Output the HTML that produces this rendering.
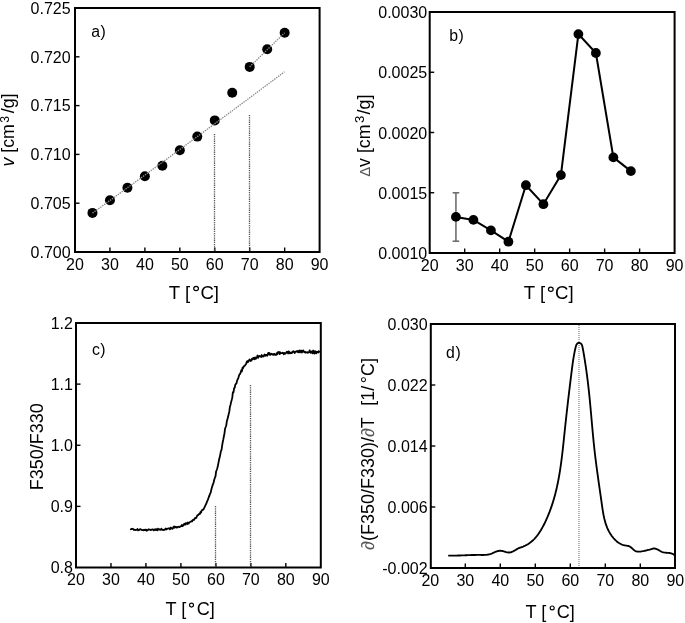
<!DOCTYPE html><html><head><meta charset="utf-8"><style>html,body{margin:0;padding:0;background:#fff;overflow:hidden;}svg{display:block;will-change:transform;}text{font-family:"Liberation Sans",sans-serif;fill:#000;}.t{font-size:16px;}.ti{font-size:18.6px;}.ty{font-size:17.6px;}.tc{font-size:18.1px;}.lb{font-size:15.8px;letter-spacing:0.5px;}</style></head><body>
<svg width="685" height="623" viewBox="0 0 685 623">
<rect width="685" height="623" fill="#fff"/>
<rect x="75" y="8" width="244.60" height="244" fill="none" stroke="#000" stroke-width="2"/>
<line x1="109.94" y1="252" x2="109.94" y2="247.5" stroke="#000" stroke-width="1.4"/>
<line x1="144.89" y1="252" x2="144.89" y2="247.5" stroke="#000" stroke-width="1.4"/>
<line x1="179.83" y1="252" x2="179.83" y2="247.5" stroke="#000" stroke-width="1.4"/>
<line x1="214.77" y1="252" x2="214.77" y2="247.5" stroke="#000" stroke-width="1.4"/>
<line x1="249.71" y1="252" x2="249.71" y2="247.5" stroke="#000" stroke-width="1.4"/>
<line x1="284.66" y1="252" x2="284.66" y2="247.5" stroke="#000" stroke-width="1.4"/>
<line x1="75" y1="203.20" x2="79.5" y2="203.20" stroke="#000" stroke-width="1.4"/>
<line x1="75" y1="154.40" x2="79.5" y2="154.40" stroke="#000" stroke-width="1.4"/>
<line x1="75" y1="105.60" x2="79.5" y2="105.60" stroke="#000" stroke-width="1.4"/>
<line x1="75" y1="56.80" x2="79.5" y2="56.80" stroke="#000" stroke-width="1.4"/>
<text x="75.00" y="269.6" class="t" text-anchor="middle">20</text>
<text x="109.94" y="269.6" class="t" text-anchor="middle">30</text>
<text x="144.89" y="269.6" class="t" text-anchor="middle">40</text>
<text x="179.83" y="269.6" class="t" text-anchor="middle">50</text>
<text x="214.77" y="269.6" class="t" text-anchor="middle">60</text>
<text x="249.71" y="269.6" class="t" text-anchor="middle">70</text>
<text x="284.66" y="269.6" class="t" text-anchor="middle">80</text>
<text x="319.60" y="269.6" class="t" text-anchor="middle">90</text>
<text x="70.6" y="257.80" class="t" text-anchor="end">0.700</text>
<text x="70.6" y="209.00" class="t" text-anchor="end">0.705</text>
<text x="70.6" y="160.20" class="t" text-anchor="end">0.710</text>
<text x="70.6" y="111.40" class="t" text-anchor="end">0.715</text>
<text x="70.6" y="62.60" class="t" text-anchor="end">0.720</text>
<text x="70.6" y="13.80" class="t" text-anchor="end">0.725</text>
<line x1="214.5" y1="134" x2="214.5" y2="251" stroke="#555" stroke-width="1.3" stroke-dasharray="1.3,0.9"/>
<line x1="249.5" y1="115" x2="249.5" y2="251" stroke="#555" stroke-width="1.3" stroke-dasharray="1.3,0.9"/>
<circle cx="92.47" cy="212.9" r="5" fill="#000"/>
<circle cx="109.94" cy="200.2" r="5" fill="#000"/>
<circle cx="127.41" cy="187.8" r="5" fill="#000"/>
<circle cx="144.89" cy="176.2" r="5" fill="#000"/>
<circle cx="162.36" cy="165.8" r="5" fill="#000"/>
<circle cx="179.83" cy="150.2" r="5" fill="#000"/>
<circle cx="197.30" cy="136.6" r="5" fill="#000"/>
<circle cx="214.77" cy="120.4" r="5" fill="#000"/>
<circle cx="232.24" cy="92.8" r="5" fill="#000"/>
<circle cx="249.71" cy="66.9" r="5" fill="#000"/>
<circle cx="267.19" cy="49.2" r="5" fill="#000"/>
<circle cx="284.66" cy="32.8" r="5" fill="#000"/>
<polyline points="92.50,213.12 97.42,209.56 102.35,205.99 107.27,202.43 112.19,198.85 117.12,195.28 122.04,191.70 126.96,188.12 131.88,184.54 136.81,180.95 141.73,177.36 146.65,173.76 151.58,170.17 156.50,166.57 161.42,162.96 166.35,159.36 171.27,155.74 176.19,152.13 181.12,148.51 186.04,144.89 190.96,141.27 195.88,137.65 200.81,134.02 205.73,130.38 210.65,126.75 215.58,123.11 220.50,119.47 225.42,115.82 230.35,112.17 235.27,108.52 240.19,104.86 245.12,101.21 250.04,97.54 254.96,93.88 259.88,90.21 264.81,86.54 269.73,82.86 274.65,79.19 279.58,75.50 284.50,71.82" fill="none" stroke="#8a8a8a" stroke-width="1.3" stroke-dasharray="1.4,1"/>
<line x1="249.6" y1="66.9" x2="284.6" y2="32.8" stroke="#8a8a8a" stroke-width="1.3" stroke-dasharray="1.4,1"/>
<text x="91.2" y="37.1" class="lb">a)</text>
<text x="168.8" y="298.5" class="ti">T [</text><ellipse cx="196.1" cy="288.5" rx="2.35" ry="2.1" fill="none" stroke="#000" stroke-width="1.2"/><text x="200.4" y="298.5" class="ti">C]</text>
<text transform="translate(14.2,166.6) rotate(-90)" font-size="17.8"><tspan font-style="italic">v</tspan> [cm</text>
<text transform="translate(8.5,122.7) rotate(-90)" font-size="12.2">3</text>
<text transform="translate(14.2,113.3) rotate(-90)" font-size="17.8">/g]</text>
<rect x="429.7" y="12" width="244.90" height="241" fill="none" stroke="#000" stroke-width="2"/>
<line x1="464.69" y1="253" x2="464.69" y2="248.5" stroke="#000" stroke-width="1.4"/>
<line x1="499.67" y1="253" x2="499.67" y2="248.5" stroke="#000" stroke-width="1.4"/>
<line x1="534.66" y1="253" x2="534.66" y2="248.5" stroke="#000" stroke-width="1.4"/>
<line x1="569.64" y1="253" x2="569.64" y2="248.5" stroke="#000" stroke-width="1.4"/>
<line x1="604.63" y1="253" x2="604.63" y2="248.5" stroke="#000" stroke-width="1.4"/>
<line x1="639.61" y1="253" x2="639.61" y2="248.5" stroke="#000" stroke-width="1.4"/>
<line x1="429.7" y1="192.75" x2="434.2" y2="192.75" stroke="#000" stroke-width="1.4"/>
<line x1="429.7" y1="132.50" x2="434.2" y2="132.50" stroke="#000" stroke-width="1.4"/>
<line x1="429.7" y1="72.25" x2="434.2" y2="72.25" stroke="#000" stroke-width="1.4"/>
<text x="429.70" y="271.1" class="t" text-anchor="middle">20</text>
<text x="464.69" y="271.1" class="t" text-anchor="middle">30</text>
<text x="499.67" y="271.1" class="t" text-anchor="middle">40</text>
<text x="534.66" y="271.1" class="t" text-anchor="middle">50</text>
<text x="569.64" y="271.1" class="t" text-anchor="middle">60</text>
<text x="604.63" y="271.1" class="t" text-anchor="middle">70</text>
<text x="639.61" y="271.1" class="t" text-anchor="middle">80</text>
<text x="674.60" y="271.1" class="t" text-anchor="middle">90</text>
<text x="427.2" y="259.15" class="t" text-anchor="end">0.0010</text>
<text x="427.2" y="198.90" class="t" text-anchor="end">0.0015</text>
<text x="427.2" y="138.65" class="t" text-anchor="end">0.0020</text>
<text x="427.2" y="78.40" class="t" text-anchor="end">0.0025</text>
<text x="427.2" y="18.15" class="t" text-anchor="end">0.0030</text>
<g stroke="#666" stroke-width="1.5"><line x1="455.94" y1="192.8" x2="455.94" y2="241.2"/><line x1="452.64" y1="192.8" x2="459.24" y2="192.8"/><line x1="452.64" y1="241.2" x2="459.24" y2="241.2"/></g>
<polyline points="455.94,216.9 473.43,219.9 490.93,230.4 508.42,241.7 525.91,185.2 543.40,204.2 560.90,175.1 578.39,34.1 595.88,53.0 613.38,157.4 630.87,171.1" fill="none" stroke="#000" stroke-width="2"/>
<circle cx="455.94" cy="216.9" r="4.9" fill="#000"/>
<circle cx="473.43" cy="219.9" r="4.9" fill="#000"/>
<circle cx="490.93" cy="230.4" r="4.9" fill="#000"/>
<circle cx="508.42" cy="241.7" r="4.9" fill="#000"/>
<circle cx="525.91" cy="185.2" r="4.9" fill="#000"/>
<circle cx="543.40" cy="204.2" r="4.9" fill="#000"/>
<circle cx="560.90" cy="175.1" r="4.9" fill="#000"/>
<circle cx="578.39" cy="34.1" r="4.9" fill="#000"/>
<circle cx="595.88" cy="53.0" r="4.9" fill="#000"/>
<circle cx="613.38" cy="157.4" r="4.9" fill="#000"/>
<circle cx="630.87" cy="171.1" r="4.9" fill="#000"/>
<text x="449.2" y="40.6" class="lb">b)</text>
<text x="523.8" y="299.2" class="ti">T [</text><ellipse cx="550.8" cy="289.3" rx="2.35" ry="2.1" fill="none" stroke="#000" stroke-width="1.2"/><text x="555" y="299.2" class="ti">C]</text>
<text transform="translate(369.5,176.8) rotate(-90)" font-size="15"><tspan fill="#555">Δ</tspan></text>
<text transform="translate(369.5,166.9) rotate(-90)" font-size="17.8">v [cm</text>
<text transform="translate(363.5,122.9) rotate(-90)" font-size="13.3">3</text>
<text transform="translate(369.5,114.4) rotate(-90)" font-size="17.8">/g]</text>
<rect x="76" y="323" width="244.80" height="244.5" fill="none" stroke="#000" stroke-width="2"/>
<line x1="110.97" y1="567.5" x2="110.97" y2="563.0" stroke="#000" stroke-width="1.4"/>
<line x1="145.94" y1="567.5" x2="145.94" y2="563.0" stroke="#000" stroke-width="1.4"/>
<line x1="180.91" y1="567.5" x2="180.91" y2="563.0" stroke="#000" stroke-width="1.4"/>
<line x1="215.89" y1="567.5" x2="215.89" y2="563.0" stroke="#000" stroke-width="1.4"/>
<line x1="250.86" y1="567.5" x2="250.86" y2="563.0" stroke="#000" stroke-width="1.4"/>
<line x1="285.83" y1="567.5" x2="285.83" y2="563.0" stroke="#000" stroke-width="1.4"/>
<line x1="76" y1="506.38" x2="80.5" y2="506.38" stroke="#000" stroke-width="1.4"/>
<line x1="76" y1="445.25" x2="80.5" y2="445.25" stroke="#000" stroke-width="1.4"/>
<line x1="76" y1="384.12" x2="80.5" y2="384.12" stroke="#000" stroke-width="1.4"/>
<text x="76.00" y="584.7" class="t" text-anchor="middle">20</text>
<text x="110.97" y="584.7" class="t" text-anchor="middle">30</text>
<text x="145.94" y="584.7" class="t" text-anchor="middle">40</text>
<text x="180.91" y="584.7" class="t" text-anchor="middle">50</text>
<text x="215.89" y="584.7" class="t" text-anchor="middle">60</text>
<text x="250.86" y="584.7" class="t" text-anchor="middle">70</text>
<text x="285.83" y="584.7" class="t" text-anchor="middle">80</text>
<text x="320.80" y="584.7" class="t" text-anchor="middle">90</text>
<text x="72.9" y="573.45" class="t" text-anchor="end">0.8</text>
<text x="72.9" y="512.33" class="t" text-anchor="end">0.9</text>
<text x="72.9" y="451.20" class="t" text-anchor="end">1.0</text>
<text x="72.9" y="390.07" class="t" text-anchor="end">1.1</text>
<text x="72.9" y="328.95" class="t" text-anchor="end">1.2</text>
<line x1="215.5" y1="506" x2="215.5" y2="567" stroke="#555" stroke-width="1.3" stroke-dasharray="1.3,0.9"/>
<line x1="250.5" y1="385" x2="250.5" y2="567" stroke="#555" stroke-width="1.3" stroke-dasharray="1.3,0.9"/>
<polyline points="130.30,528.82 130.90,529.26 131.50,528.96 132.10,529.00 132.70,528.77 133.30,529.22 133.90,529.96 134.50,529.70 135.10,530.09 135.70,529.78 136.30,529.92 136.90,529.88 137.50,529.00 138.10,530.30 138.70,530.16 139.30,530.18 139.90,529.12 140.50,529.12 141.10,529.58 141.70,529.81 142.30,530.21 142.90,530.03 143.50,530.29 144.10,529.67 144.70,530.11 145.30,530.11 145.90,529.54 146.50,530.69 147.10,530.07 147.70,530.35 148.30,529.42 148.90,529.35 149.50,529.55 150.10,529.67 150.70,530.05 151.30,529.87 151.90,529.53 152.50,529.28 153.10,529.51 153.70,530.39 154.30,529.38 154.90,529.91 155.50,529.99 156.10,529.02 156.70,529.77 157.30,530.37 157.90,528.68 158.50,529.51 159.10,529.59 159.70,529.21 160.30,529.84 160.90,529.53 161.50,528.80 162.10,529.92 162.70,529.80 163.30,529.89 163.90,530.09 164.50,529.50 165.10,529.33 165.70,528.57 166.30,529.47 166.90,528.81 167.50,528.84 168.10,528.38 168.70,528.46 169.30,528.59 169.90,529.39 170.50,527.59 171.10,527.73 171.70,528.43 172.30,528.88 172.90,528.29 173.50,526.88 174.10,526.42 174.70,527.71 175.30,527.01 175.90,526.67 176.50,527.58 177.10,527.50 177.70,526.89 178.30,526.79 178.90,526.74 179.50,527.18 180.10,526.54 180.70,526.32 181.30,526.14 181.90,524.86 182.50,526.07 183.10,525.66 183.70,525.19 184.30,523.67 184.90,524.10 185.50,524.61 186.10,523.01 186.70,523.59 187.30,523.94 187.90,522.46 188.50,523.64 189.10,522.77 189.70,522.06 190.30,521.94 190.90,521.74 191.50,521.11 192.10,521.27 192.70,519.98 193.30,519.70 193.90,519.98 194.50,518.93 195.10,517.89 195.70,518.20 196.30,517.84 196.90,516.22 197.50,515.10 198.10,515.10 198.70,514.45 199.30,513.73 199.90,513.97 200.50,512.03 201.10,512.53 201.70,510.46 202.30,509.92 202.90,509.85 203.50,509.26 204.10,508.23 204.70,506.93 205.30,505.67 205.90,504.38 206.50,503.19 207.10,501.28 207.70,500.02 208.30,498.66 208.90,496.76 209.50,495.51 210.10,493.65 210.70,492.64 211.30,489.82 211.90,487.52 212.50,485.61 213.10,483.82 213.70,482.30 214.30,479.47 214.90,477.72 215.50,476.39 216.10,471.55 216.70,469.95 217.30,468.18 217.90,465.58 218.50,462.66 219.10,459.47 219.70,457.35 220.30,454.39 220.90,451.10 221.50,450.05 222.10,445.84 222.70,442.25 223.30,439.41 223.90,436.21 224.50,433.22 225.10,428.51 225.70,427.03 226.30,425.16 226.90,420.98 227.50,418.94 228.10,416.82 228.70,413.98 229.30,411.64 229.90,406.77 230.50,404.92 231.10,402.12 231.70,399.90 232.30,397.42 232.90,392.15 233.50,392.27 234.10,388.29 234.70,387.85 235.30,384.57 235.90,384.06 236.50,383.17 237.10,380.63 237.70,379.25 238.30,378.03 238.90,375.97 239.50,374.30 240.10,374.06 240.70,372.41 241.30,370.28 241.90,371.41 242.50,367.61 243.10,368.20 243.70,366.53 244.30,366.05 244.90,365.70 245.50,364.57 246.10,364.11 246.70,361.83 247.30,361.21 247.90,362.21 248.50,360.57 249.10,360.09 249.70,359.37 250.30,361.03 250.90,360.33 251.50,360.58 252.10,358.55 252.70,358.98 253.30,357.88 253.90,359.03 254.50,359.38 255.10,357.30 255.70,358.86 256.30,358.19 256.90,357.09 257.50,355.51 258.10,357.78 258.70,356.46 259.30,355.90 259.90,356.47 260.50,356.34 261.10,357.01 261.70,355.00 262.30,356.46 262.90,356.59 263.50,356.42 264.10,355.08 264.70,354.54 265.30,355.74 265.90,354.98 266.50,354.90 267.10,355.79 267.70,354.46 268.30,352.87 268.90,354.21 269.50,353.04 270.10,354.95 270.70,354.50 271.30,353.74 271.90,354.11 272.50,354.67 273.10,354.05 273.70,354.92 274.30,353.82 274.90,354.58 275.50,354.86 276.10,354.89 276.70,353.13 277.30,354.23 277.90,352.11 278.50,352.65 279.10,351.93 279.70,354.14 280.30,352.37 280.90,353.23 281.50,353.05 282.10,353.12 282.70,352.65 283.30,353.21 283.90,354.32 284.50,352.97 285.10,353.28 285.70,353.58 286.30,352.64 286.90,351.79 287.50,352.27 288.10,353.44 288.70,351.37 289.30,352.11 289.90,353.28 290.50,353.09 291.10,352.47 291.70,353.03 292.30,352.52 292.90,351.49 293.50,351.17 294.10,351.83 294.70,352.96 295.30,351.82 295.90,351.54 296.50,351.60 297.10,351.00 297.70,352.04 298.30,351.22 298.90,352.35 299.50,350.30 300.10,352.30 300.70,351.56 301.30,350.58 301.90,352.56 302.50,351.80 303.10,350.33 303.70,351.32 304.30,352.18 304.90,351.61 305.50,352.52 306.10,352.49 306.70,352.41 307.30,352.15 307.90,352.89 308.50,352.38 309.10,352.22 309.70,350.32 310.30,352.54 310.90,352.84 311.50,351.63 312.10,351.50 312.70,353.29 313.30,350.52 313.90,352.18 314.50,353.64 315.10,351.13 315.70,352.33 316.30,353.22 316.90,351.72 317.50,352.24 318.10,352.51 318.70,351.18 319.30,351.80 319.90,352.10" fill="none" stroke="#000" stroke-width="1.8" stroke-linejoin="round"/>
<text x="91.9" y="354.7" class="lb">c)</text>
<text x="165.6" y="614.9" class="tc">T [</text><ellipse cx="191.5" cy="605.1" rx="2.0" ry="1.95" fill="none" stroke="#000" stroke-width="1.15"/><text x="196.7" y="614.9" class="tc">C]</text>
<text transform="translate(42.5,490.2) rotate(-90)" font-size="18.0">F350/F330</text>
<rect x="430.8" y="324" width="244.20" height="244" fill="none" stroke="#000" stroke-width="2"/>
<line x1="465.30" y1="568" x2="465.30" y2="563.5" stroke="#000" stroke-width="1.4"/>
<line x1="500.30" y1="568" x2="500.30" y2="563.5" stroke="#000" stroke-width="1.4"/>
<line x1="535.30" y1="568" x2="535.30" y2="563.5" stroke="#000" stroke-width="1.4"/>
<line x1="570.30" y1="568" x2="570.30" y2="563.5" stroke="#000" stroke-width="1.4"/>
<line x1="605.30" y1="568" x2="605.30" y2="563.5" stroke="#000" stroke-width="1.4"/>
<line x1="640.30" y1="568" x2="640.30" y2="563.5" stroke="#000" stroke-width="1.4"/>
<line x1="430.8" y1="507.00" x2="435.3" y2="507.00" stroke="#000" stroke-width="1.4"/>
<line x1="430.8" y1="446.00" x2="435.3" y2="446.00" stroke="#000" stroke-width="1.4"/>
<line x1="430.8" y1="385.00" x2="435.3" y2="385.00" stroke="#000" stroke-width="1.4"/>
<text x="430.30" y="585.6" class="t" text-anchor="middle">20</text>
<text x="465.30" y="585.6" class="t" text-anchor="middle">30</text>
<text x="500.30" y="585.6" class="t" text-anchor="middle">40</text>
<text x="535.30" y="585.6" class="t" text-anchor="middle">50</text>
<text x="570.30" y="585.6" class="t" text-anchor="middle">60</text>
<text x="605.30" y="585.6" class="t" text-anchor="middle">70</text>
<text x="640.30" y="585.6" class="t" text-anchor="middle">80</text>
<text x="675.30" y="585.6" class="t" text-anchor="middle">90</text>
<text x="427.6" y="574.25" class="t" text-anchor="end">-0.002</text>
<text x="427.6" y="513.25" class="t" text-anchor="end">0.006</text>
<text x="427.6" y="452.25" class="t" text-anchor="end">0.014</text>
<text x="427.6" y="391.25" class="t" text-anchor="end">0.022</text>
<text x="427.6" y="330.25" class="t" text-anchor="end">0.030</text>
<line x1="579.0" y1="325" x2="579.0" y2="567" stroke="#777" stroke-width="1.1" stroke-dasharray="1,1"/>
<polyline points="448.20,555.69 449.01,555.69 449.82,555.69 450.62,555.69 451.43,555.68 452.24,555.67 453.04,555.66 453.85,555.65 454.65,555.63 455.46,555.61 456.26,555.59 457.07,555.56 457.87,555.54 458.68,555.51 459.48,555.48 460.29,555.46 461.09,555.43 461.90,555.39 462.70,555.36 463.50,555.33 464.31,555.30 465.11,555.27 465.92,555.24 466.72,555.21 467.52,555.18 468.33,555.15 469.13,555.12 469.94,555.09 470.74,555.07 471.55,555.04 472.35,555.02 473.16,555.00 473.97,554.98 474.77,554.97 475.58,554.96 476.39,554.95 477.20,554.94 478.00,554.94 478.81,554.94 479.62,554.94 480.43,554.95 481.24,554.96 482.05,554.96 482.86,554.97 483.67,554.96 484.48,554.94 485.28,554.90 486.08,554.84 486.88,554.76 487.67,554.65 488.45,554.51 489.24,554.34 490.01,554.12 490.78,553.87 491.54,553.58 492.30,553.27 493.06,552.94 493.81,552.60 494.56,552.27 495.31,551.95 496.06,551.66 496.81,551.39 497.57,551.16 498.33,550.97 499.09,550.85 499.86,550.78 500.64,550.79 501.42,550.88 502.21,551.02 503.00,551.21 503.80,551.43 504.59,551.66 505.39,551.89 506.18,552.11 506.97,552.29 507.75,552.43 508.52,552.50 509.29,552.50 510.04,552.42 510.79,552.25 511.53,552.02 512.26,551.73 512.99,551.39 513.71,551.01 514.44,550.61 515.16,550.19 515.87,549.76 516.60,549.33 517.32,548.92 518.05,548.53 518.78,548.18 519.52,547.86 520.26,547.57 521.00,547.31 521.75,547.05 522.49,546.79 523.24,546.51 523.97,546.20 524.71,545.88 525.43,545.53 526.15,545.16 526.87,544.77 527.57,544.36 528.26,543.93 528.94,543.48 529.61,543.02 530.26,542.54 530.90,542.04 531.52,541.54 532.13,541.01 532.73,540.48 533.32,539.93 533.89,539.37 534.45,538.79 534.99,538.20 535.53,537.61 536.05,537.00 536.56,536.38 537.07,535.75 537.56,535.11 538.04,534.47 538.51,533.81 538.97,533.15 539.42,532.48 539.86,531.80 540.30,531.11 540.72,530.42 541.14,529.73 541.55,529.02 541.95,528.32 542.35,527.61 542.74,526.89 543.12,526.17 543.50,525.45 543.87,524.72 544.24,524.00 544.60,523.27 544.95,522.54 545.30,521.81 545.65,521.08 545.99,520.34 546.33,519.61 546.66,518.87 546.99,518.13 547.31,517.39 547.63,516.65 547.94,515.91 548.25,515.17 548.56,514.42 548.86,513.68 549.15,512.93 549.45,512.18 549.73,511.43 550.02,510.68 550.30,509.93 550.57,509.17 550.84,508.42 551.11,507.66 551.37,506.91 551.63,506.15 551.89,505.39 552.14,504.63 552.39,503.87 552.63,503.11 552.87,502.34 553.11,501.58 553.34,500.81 553.57,500.04 553.79,499.28 554.02,498.51 554.24,497.74 554.45,496.97 554.66,496.19 554.87,495.42 555.08,494.65 555.28,493.87 555.48,493.10 555.67,492.32 555.87,491.54 556.06,490.77 556.24,489.99 556.43,489.21 556.61,488.43 556.78,487.64 556.96,486.86 557.13,486.08 557.30,485.29 557.47,484.51 557.63,483.72 557.79,482.94 557.95,482.15 558.11,481.36 558.26,480.57 558.41,479.79 558.56,479.00 558.71,478.21 558.85,477.41 558.99,476.62 559.13,475.83 559.27,475.04 559.41,474.24 559.54,473.45 559.67,472.66 559.80,471.86 559.93,471.06 560.05,470.27 560.18,469.47 560.30,468.67 560.42,467.88 560.53,467.08 560.65,466.28 560.77,465.48 560.88,464.68 560.99,463.88 561.10,463.08 561.21,462.28 561.31,461.48 561.42,460.68 561.52,459.88 561.63,459.08 561.73,458.27 561.83,457.47 561.93,456.67 562.03,455.87 562.12,455.06 562.22,454.26 562.31,453.46 562.41,452.65 562.50,451.85 562.59,451.04 562.68,450.24 562.77,449.44 562.86,448.63 562.95,447.83 563.04,447.02 563.13,446.22 563.21,445.41 563.30,444.61 563.39,443.80 563.47,443.00 563.56,442.19 563.64,441.39 563.73,440.58 563.81,439.78 563.89,438.97 563.98,438.16 564.06,437.36 564.14,436.55 564.23,435.75 564.31,434.95 564.39,434.14 564.48,433.34 564.56,432.53 564.65,431.73 564.73,430.92 564.81,430.12 564.90,429.32 564.98,428.51 565.07,427.71 565.15,426.91 565.24,426.10 565.32,425.30 565.41,424.50 565.50,423.70 565.58,422.89 565.67,422.09 565.76,421.29 565.85,420.49 565.93,419.69 566.02,418.89 566.11,418.08 566.20,417.28 566.29,416.48 566.37,415.68 566.46,414.88 566.55,414.08 566.64,413.28 566.73,412.48 566.82,411.68 566.91,410.88 567.00,410.08 567.09,409.28 567.19,408.48 567.28,407.69 567.37,406.89 567.46,406.09 567.55,405.29 567.64,404.49 567.74,403.69 567.83,402.89 567.92,402.10 568.01,401.30 568.11,400.50 568.20,399.70 568.29,398.91 568.39,398.11 568.48,397.31 568.58,396.51 568.67,395.72 568.77,394.92 568.86,394.12 568.96,393.33 569.05,392.53 569.15,391.74 569.24,390.94 569.34,390.14 569.43,389.35 569.53,388.55 569.63,387.76 569.72,386.96 569.82,386.17 569.92,385.37 570.01,384.58 570.11,383.78 570.21,382.99 570.30,382.19 570.40,381.40 570.50,380.60 570.60,379.81 570.70,379.01 570.79,378.22 570.89,377.42 570.99,376.63 571.09,375.84 571.19,375.04 571.29,374.25 571.39,373.45 571.49,372.66 571.59,371.87 571.69,371.07 571.79,370.28 571.89,369.49 571.99,368.69 572.09,367.90 572.19,367.10 572.29,366.31 572.40,365.51 572.50,364.72 572.61,363.92 572.72,363.12 572.83,362.32 572.95,361.52 573.07,360.72 573.19,359.92 573.32,359.11 573.44,358.30 573.58,357.49 573.71,356.68 573.86,355.86 574.00,355.04 574.15,354.22 574.31,353.40 574.47,352.57 574.64,351.74 574.81,350.91 574.99,350.07 575.17,349.23 575.37,348.39 575.57,347.54 575.78,346.71 576.02,345.90 576.30,345.15 576.61,344.47 576.99,343.89 577.42,343.41 577.94,343.08 578.53,342.89 579.22,342.88 579.96,343.05 580.66,343.39 581.24,343.89 581.69,344.54 582.03,345.29 582.29,346.12 582.49,347.00 582.67,347.88 582.84,348.75 583.00,349.61 583.16,350.45 583.31,351.28 583.46,352.10 583.60,352.90 583.74,353.70 583.87,354.49 584.01,355.28 584.14,356.06 584.26,356.84 584.39,357.61 584.52,358.38 584.64,359.16 584.76,359.94 584.88,360.71 585.00,361.49 585.12,362.27 585.24,363.05 585.36,363.84 585.48,364.62 585.60,365.41 585.72,366.20 585.83,366.99 585.95,367.77 586.06,368.57 586.17,369.36 586.29,370.15 586.40,370.94 586.51,371.74 586.62,372.53 586.73,373.33 586.83,374.13 586.94,374.93 587.05,375.72 587.15,376.52 587.26,377.32 587.36,378.12 587.46,378.92 587.56,379.73 587.66,380.53 587.76,381.33 587.86,382.13 587.96,382.93 588.05,383.73 588.15,384.54 588.24,385.34 588.33,386.14 588.42,386.94 588.51,387.75 588.60,388.55 588.69,389.35 588.78,390.16 588.87,390.96 588.95,391.76 589.04,392.57 589.12,393.37 589.20,394.17 589.29,394.98 589.37,395.78 589.45,396.58 589.53,397.39 589.61,398.19 589.69,399.00 589.77,399.80 589.85,400.60 589.92,401.41 590.00,402.21 590.08,403.02 590.15,403.82 590.23,404.62 590.30,405.43 590.38,406.23 590.45,407.04 590.53,407.84 590.60,408.65 590.67,409.45 590.75,410.25 590.82,411.06 590.89,411.86 590.96,412.67 591.03,413.47 591.11,414.27 591.18,415.08 591.25,415.88 591.32,416.69 591.39,417.49 591.46,418.29 591.53,419.10 591.60,419.90 591.68,420.71 591.75,421.51 591.82,422.31 591.89,423.12 591.96,423.92 592.03,424.72 592.10,425.53 592.18,426.33 592.25,427.13 592.32,427.94 592.39,428.74 592.47,429.54 592.54,430.35 592.61,431.15 592.69,431.95 592.76,432.75 592.84,433.55 592.91,434.36 592.99,435.16 593.06,435.96 593.14,436.76 593.22,437.56 593.29,438.37 593.37,439.17 593.45,439.97 593.53,440.77 593.61,441.57 593.69,442.37 593.77,443.17 593.85,443.97 593.94,444.77 594.02,445.57 594.11,446.37 594.19,447.17 594.28,447.97 594.36,448.77 594.45,449.57 594.54,450.36 594.63,451.16 594.72,451.96 594.81,452.76 594.91,453.56 595.00,454.35 595.09,455.15 595.19,455.95 595.29,456.75 595.38,457.54 595.48,458.34 595.58,459.14 595.68,459.93 595.78,460.73 595.88,461.53 595.98,462.32 596.08,463.12 596.19,463.91 596.29,464.71 596.39,465.51 596.50,466.30 596.60,467.10 596.71,467.89 596.82,468.69 596.92,469.49 597.03,470.28 597.14,471.08 597.25,471.87 597.36,472.67 597.47,473.47 597.58,474.26 597.69,475.06 597.80,475.85 597.91,476.65 598.02,477.45 598.13,478.24 598.24,479.04 598.36,479.84 598.47,480.64 598.58,481.43 598.69,482.23 598.81,483.03 598.92,483.83 599.04,484.62 599.15,485.42 599.26,486.22 599.38,487.02 599.49,487.82 599.61,488.62 599.72,489.42 599.84,490.22 599.95,491.02 600.07,491.82 600.18,492.62 600.30,493.42 600.41,494.22 600.53,495.03 600.64,495.83 600.76,496.63 600.87,497.43 600.99,498.24 601.10,499.04 601.21,499.84 601.33,500.65 601.44,501.45 601.56,502.26 601.67,503.07 601.78,503.87 601.90,504.68 602.01,505.49 602.13,506.29 602.24,507.10 602.36,507.90 602.48,508.71 602.60,509.51 602.73,510.32 602.86,511.12 602.99,511.92 603.13,512.72 603.27,513.52 603.42,514.31 603.57,515.11 603.73,515.90 603.89,516.69 604.06,517.47 604.24,518.26 604.42,519.04 604.62,519.81 604.82,520.59 605.03,521.36 605.25,522.12 605.47,522.88 605.71,523.64 605.96,524.39 606.22,525.14 606.49,525.89 606.77,526.63 607.06,527.36 607.36,528.09 607.68,528.81 608.01,529.53 608.36,530.24 608.71,530.95 609.08,531.65 609.47,532.34 609.87,533.03 610.29,533.71 610.72,534.38 611.17,535.05 611.63,535.71 612.11,536.36 612.61,537.00 613.13,537.64 613.66,538.26 614.22,538.87 614.78,539.47 615.37,540.05 615.97,540.62 616.58,541.16 617.22,541.68 617.86,542.18 618.53,542.65 619.21,543.10 619.90,543.52 620.61,543.90 621.33,544.25 622.06,544.57 622.81,544.84 623.58,545.08 624.35,545.28 625.14,545.44 625.93,545.57 626.73,545.69 627.52,545.83 628.29,546.00 629.05,546.23 629.78,546.54 630.47,546.95 631.13,547.44 631.77,547.99 632.39,548.58 633.01,549.17 633.64,549.74 634.27,550.27 634.93,550.72 635.62,551.07 636.34,551.33 637.08,551.51 637.84,551.60 638.62,551.64 639.41,551.62 640.21,551.56 641.02,551.46 641.82,551.34 642.62,551.21 643.41,551.06 644.21,550.91 645.00,550.74 645.78,550.57 646.57,550.38 647.35,550.19 648.14,549.98 648.92,549.77 649.71,549.54 650.50,549.31 651.29,549.06 652.08,548.84 652.86,548.65 653.63,548.53 654.40,548.50 655.15,548.58 655.88,548.76 656.60,549.02 657.32,549.35 658.03,549.73 658.74,550.14 659.46,550.56 660.17,550.98 660.90,551.38 661.64,551.74 662.39,552.04 663.15,552.28 663.93,552.46 664.72,552.59 665.52,552.68 666.32,552.75 667.12,552.81 667.93,552.87 668.73,552.93 669.53,553.02 670.31,553.15 671.09,553.32 671.85,553.55 672.59,553.84 673.32,554.22 674.02,554.69 674.69,555.27" fill="none" stroke="#000" stroke-width="1.85" stroke-linejoin="round"/>
<text x="446.1" y="357.9" class="lb">d)</text>
<text x="525.6" y="618.2" class="tc">T [</text><ellipse cx="552.2" cy="607.9" rx="2.0" ry="1.95" fill="none" stroke="#000" stroke-width="1.15"/><text x="556.7" y="618.2" class="tc">C]</text>
<text transform="translate(373.6,550) rotate(-90)" font-size="18"><tspan fill="#555" font-style="italic">∂</tspan>(F350/F330)/<tspan fill="#555" font-style="italic">∂</tspan>T</text>
<text transform="translate(373.6,405.8) rotate(-90)" font-size="18">[1/</text>
<text transform="translate(373.6,383.2) rotate(-90)" font-size="18">°C]</text>
</svg></body></html>
